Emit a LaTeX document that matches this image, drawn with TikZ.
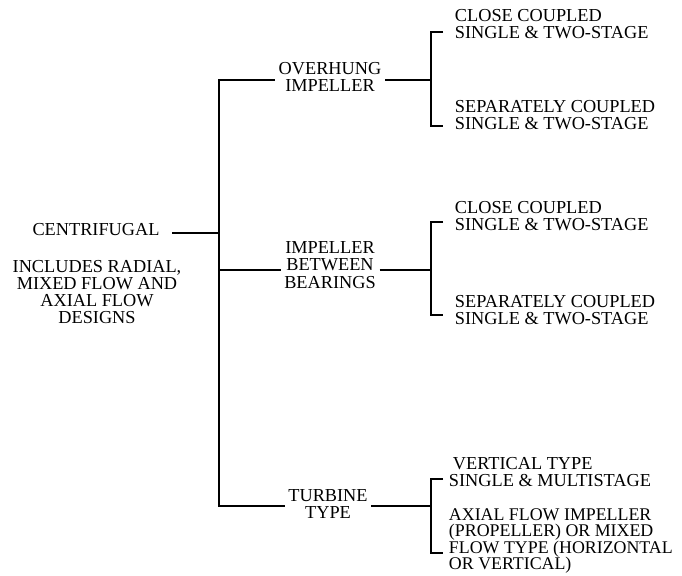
\documentclass[tikz,border=0pt]{standalone}
\usepackage{fontspec}
\setmainfont{Liberation Serif}
\usetikzlibrary{positioning}

\begin{document}
\begin{tikzpicture}[
    x=0.025cm, y=-0.025cm,
    line width=1.4pt,
    lbl/.style={inner sep=0pt, font=\fontsize{13}{11.8}\selectfont},
    midlbl/.style={lbl, align=center, inner xsep=2pt, font=\fontsize{13}{12.2}\selectfont},
    leaf/.style={lbl, align=left, anchor=west},
]
\useasboundingbox (0,0) rectangle (682,575);

% Root and its note
\node[midlbl] (cent) at (96,230) {CENTRIFUGAL};
\node[midlbl] (note) at (97,292) {INCLUDES RADIAL,\\MIXED FLOW AND\\AXIAL FLOW\\DESIGNS};

% Pump groups
\node[midlbl] (over) at (330,77) {OVERHUNG\\IMPELLER};
\node[midlbl] (betw) at (330,265) {IMPELLER\\BETWEEN\\BEARINGS};
\node[midlbl] (turb) at (328,504) {TURBINE\\TYPE};

% Leaves
\node[leaf] (cc1) at (454,24) {CLOSE COUPLED\\SINGLE \& TWO-STAGE};
\node[leaf] (sc1) at (454,115) {SEPARATELY COUPLED\\SINGLE \& TWO-STAGE};
\node[leaf] (cc2) at (454,216) {CLOSE COUPLED\\SINGLE \& TWO-STAGE};
\node[leaf] (sc2) at (454,310) {SEPARATELY COUPLED\\SINGLE \& TWO-STAGE};
\node[leaf] (vt) at (448,472) {\hspace{0.1cm}VERTICAL TYPE\\SINGLE \& MULTISTAGE};
\node[leaf, font=\fontsize{12.7}{11.8}\selectfont] (ax) at (448,541) {AXIAL FLOW IMPELLER\\(PROPELLER) OR MIXED\\FLOW TYPE (HORIZONTAL\\OR VERTICAL)};

% Trunk
\coordinate (j0) at (219,233);
\coordinate (j1) at (219,80);
\coordinate (j2) at (219,270);
\coordinate (j3) at (219,506);
\coordinate (cstub) at (172,233);
\draw (cstub) -- (j0);
\draw (over.west |- j1) -- (j1) -- (j3) -- (turb.west |- j3);
\draw (j2) -- (betw.west |- j2);

% Brackets
\coordinate (b1) at (431,80);
\coordinate (b1t) at (443,32);
\coordinate (b1b) at (443,126);
\draw (over.east |- b1) -- (b1);
\draw (b1t) -| (b1) |- (b1b);

\coordinate (b2) at (431,270);
\coordinate (b2t) at (443,222);
\coordinate (b2b) at (443,315);
\draw (betw.east |- b2) -- (b2);
\draw (b2t) -| (b2) |- (b2b);

\coordinate (b3) at (431,506);
\coordinate (b3t) at (443,479);
\coordinate (b3b) at (443,553);
\draw (turb.east |- b3) -- (b3);
\draw (b3t) -| (b3) |- (b3b);

\end{tikzpicture}
\end{document}
